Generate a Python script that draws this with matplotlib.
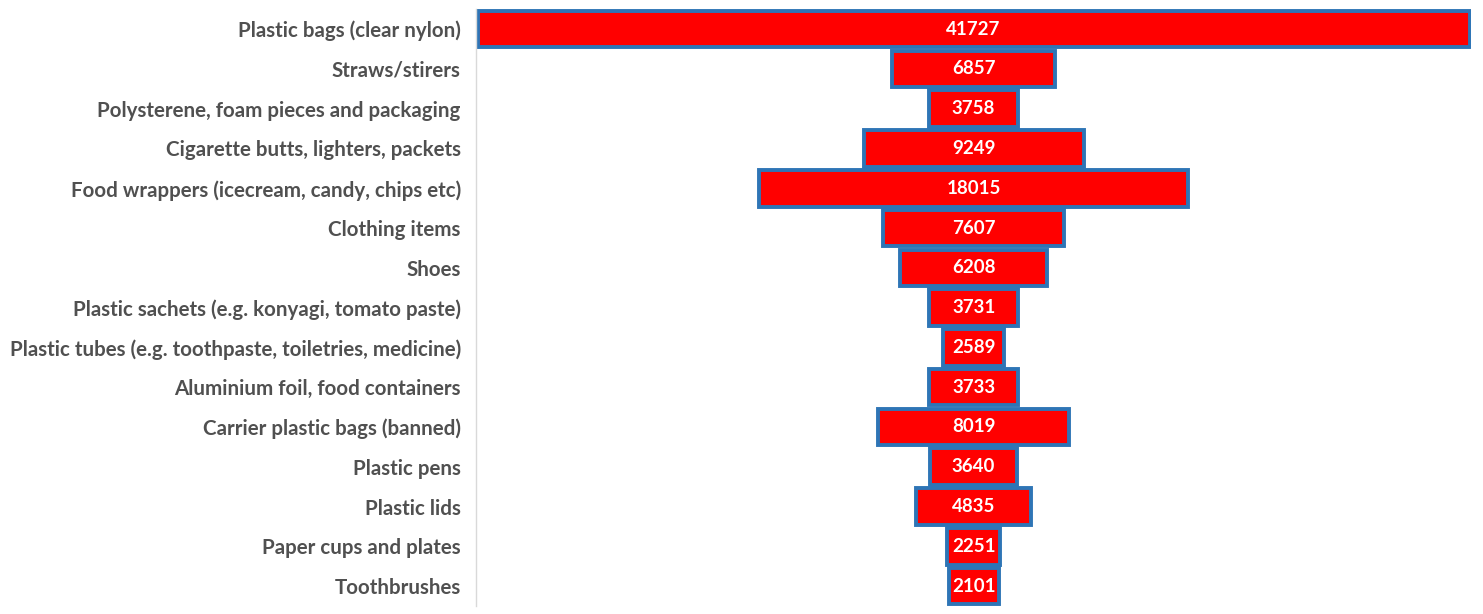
import matplotlib.pyplot as plt

categories = [
    "Plastic bags (clear nylon)",
    "Straws/stirers",
    "Polysterene, foam pieces and packaging",
    "Cigarette butts, lighters, packets",
    "Food wrappers (icecream, candy, chips etc)",
    "Clothing items",
    "Shoes",
    "Plastic sachets (e.g. konyagi, tomato paste)",
    "Plastic tubes (e.g. toothpaste, toiletries, medicine)",
    "Aluminium foil, food containers",
    "Carrier plastic bags (banned)",
    "Plastic pens",
    "Plastic lids",
    "Paper cups and plates",
    "Toothbrushes",
]
counts = [41727, 6857, 3758, 9249, 18015, 7607, 6208, 3731, 2589, 3733, 8019, 3640, 4835, 2251, 2101]

plt.rcParams['font.family'] = ['Lato', 'DejaVu Sans']

fig = plt.figure(figsize=(14.83, 6.14), dpi=100)
ax = fig.add_axes([0.321, 0.013, 0.671, 0.972])

# funnel: each bar centred on zero
ypos = list(range(len(categories)))
lefts = [-c / 2 for c in counts]
ax.barh(ypos, counts, left=lefts, height=0.92, color='#ff0000',
        edgecolor='#2e75b6', linewidth=2.8)

for y, c in zip(ypos, counts):
    ax.text(0, y, str(c), ha='center', va='center', color='white',
            fontsize=13.5, fontweight='bold')

ax.set_ylim(len(categories) - 0.5, -0.5)
half = max(counts) / 2
ax.set_xlim(-half * 1.003, half * 1.003)
ax.set_yticks(ypos)
ax.set_yticklabels(categories, fontsize=14.8, fontweight='bold', color='#505050')
ax.tick_params(axis='y', length=0, pad=11)
ax.set_xticks([])
for s in ['top', 'right', 'bottom']:
    ax.spines[s].set_visible(False)
ax.spines['left'].set_color('#d9d9d9')
ax.spines['left'].set_linewidth(1)

fig.savefig('out.png', dpi=100)
